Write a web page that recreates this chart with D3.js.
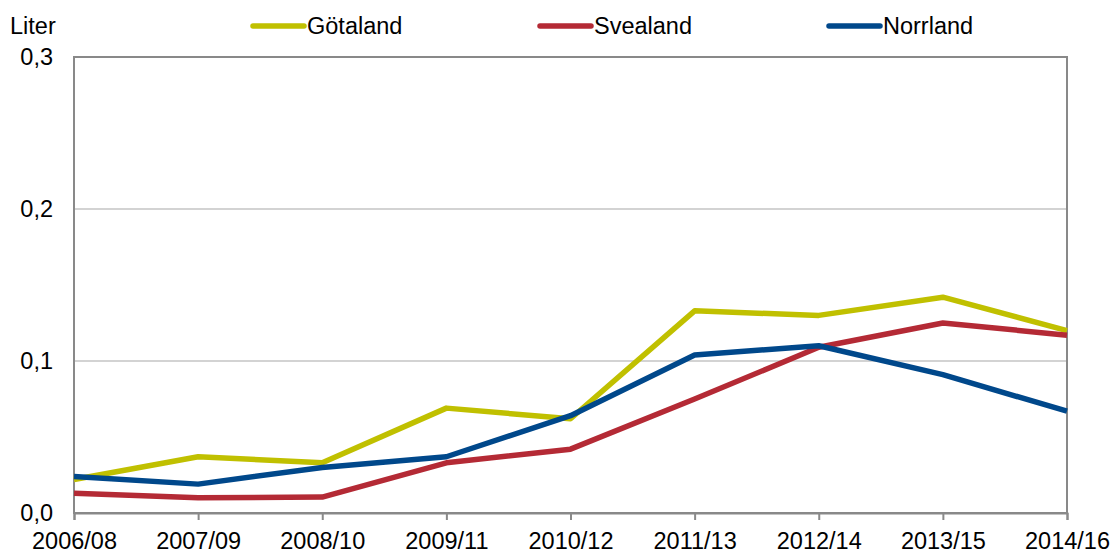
<!DOCTYPE html>
<html lang="sv">
<head>
    <meta charset="UTF-8">
    <title>Liter per region</title>
    <script src="https://d3js.org/d3.v7.min.js"></script>
    <style>
        body {
            margin: 0;
            padding: 0;
            background: #ffffff;
            overflow: hidden;
        }
        svg text {
            font-family: "Liberation Sans", Arial, sans-serif;
            font-size: 23.5px;
            fill: #000000;
        }
    </style>
</head>
<body>
<div id="chart"></div>

<script>
    const categories = ["2006/08", "2007/09", "2008/10", "2009/11", "2010/12", "2011/13", "2012/14", "2013/15", "2014/16"];
    const gotaland = [0.022, 0.037, 0.033, 0.069, 0.062, 0.133, 0.130, 0.142, 0.120];
    const svealand = [0.013, 0.010, 0.0105, 0.033, 0.042, 0.075, 0.109, 0.125, 0.117];
    const norrland = [0.024, 0.019, 0.030, 0.037, 0.064, 0.104, 0.110, 0.091, 0.067];
    const yTicks = [0, 0.1, 0.2, 0.3];

    const series = [
        { name: "Götaland", values: gotaland, color: "#c0c000" },
        { name: "Svealand", values: svealand, color: "#b42a35" },
        { name: "Norrland", values: norrland, color: "#00488b" }
    ];

    const width = 1113, height = 554;
    const plot = { left: 74, right: 1067, top: 57, bottom: 513 };

    const svg = d3.select("#chart").append("svg")
        .attr("width", width)
        .attr("height", height);

    const x = d3.scalePoint()
        .domain(categories)
        .range([plot.left, plot.right]);

    const y = d3.scaleLinear()
        .domain([0, 0.3])
        .range([plot.bottom, plot.top]);

    // gridlines
    svg.append("g")
        .selectAll("line")
        .data(yTicks.slice(1, -1))
        .enter().append("line")
        .attr("x1", plot.left)
        .attr("x2", plot.right)
        .attr("y1", d => y(d))
        .attr("y2", d => y(d))
        .attr("stroke", "#c4c4c4")
        .attr("stroke-width", 1.5);

    // plot border
    svg.append("rect")
        .attr("x", plot.left)
        .attr("y", plot.top)
        .attr("width", plot.right - plot.left)
        .attr("height", plot.bottom - plot.top)
        .attr("fill", "none")
        .attr("stroke", "#898989")
        .attr("stroke-width", 2);

    // x axis
    const xAxis = svg.append("g")
        .attr("transform", `translate(0, ${plot.bottom})`)
        .call(d3.axisBottom(x).tickSize(7).tickPadding(12));
    xAxis.select(".domain").attr("stroke", "#898989").attr("stroke-width", 2);
    xAxis.selectAll(".tick line").attr("stroke", "#898989").attr("stroke-width", 2);
    xAxis.selectAll("text").style("font-size", "23.5px").attr("fill", "#000");

    // y axis
    const yAxis = svg.append("g")
        .attr("transform", `translate(${plot.left}, 0)`)
        .call(d3.axisLeft(y).tickValues(yTicks).tickSize(0).tickPadding(21)
            .tickFormat(d => d3.format(".1f")(d).replace(".", ",")));
    yAxis.select(".domain").remove();
    yAxis.selectAll("text").style("font-size", "23.5px").attr("fill", "#000");

    svg.append("text")
        .attr("x", 10)
        .attr("y", 34)
        .text("Liter");

    // lines
    const line = d3.line()
        .x((d, i) => x(categories[i]))
        .y(d => y(d));

    svg.append("g")
        .selectAll("path")
        .data(series)
        .enter().append("path")
        .attr("d", d => line(d.values))
        .attr("fill", "none")
        .attr("stroke", d => d.color)
        .attr("stroke-width", 5.5)
        .attr("stroke-linejoin", "round");

    // legend
    const legendX = [250, 537, 826];
    const legend = svg.append("g")
        .selectAll("g")
        .data(series)
        .enter().append("g")
        .attr("transform", (d, i) => `translate(${legendX[i]}, 26)`);
    legend.append("line")
        .attr("x1", 3)
        .attr("x2", 54)
        .attr("stroke", d => d.color)
        .attr("stroke-width", 5.5)
        .attr("stroke-linecap", "round");
    legend.append("text")
        .attr("x", 57)
        .attr("y", 8)
        .text(d => d.name);
</script>
</body>
</html>
